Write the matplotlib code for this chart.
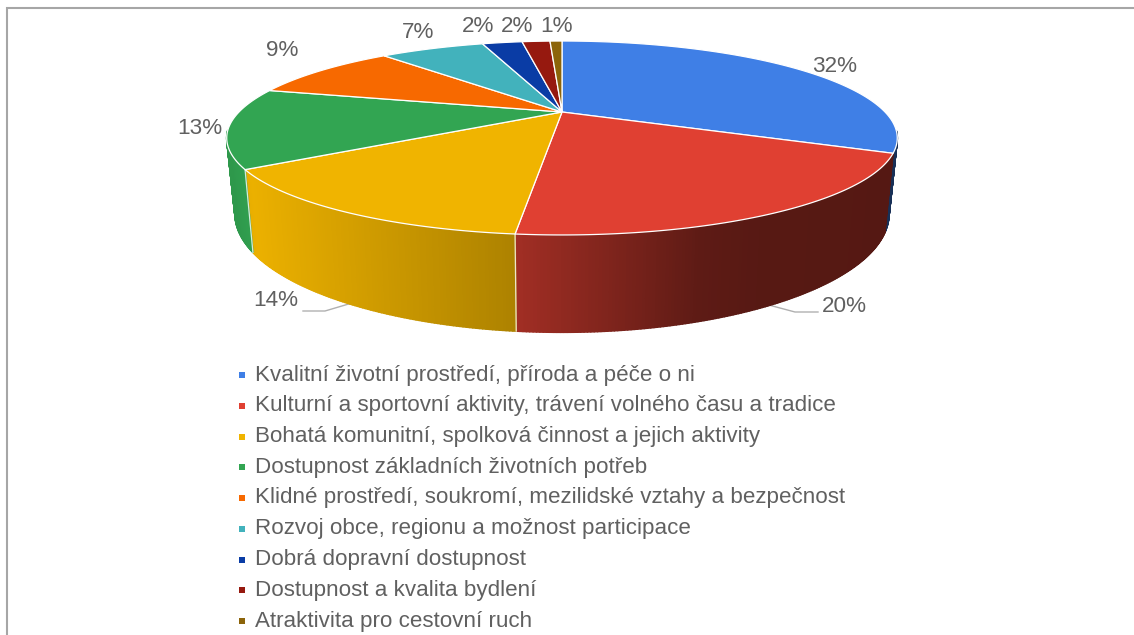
import numpy as np
import matplotlib
matplotlib.use('Agg')
import matplotlib.pyplot as plt
from matplotlib.collections import PolyCollection

kategorie = ['Kvalitní životní prostředí, příroda a péče o ni',
             'Kulturní a sportovní aktivity, trávení volného času a tradice',
             'Bohatá komunitní, spolková činnost a jejich aktivity',
             'Dostupnost základních životních potřeb',
             'Klidné prostředí, soukromí, mezilidské vztahy a bezpečnost',
             'Rozvoj obce, regionu a možnost participace',
             'Dobrá dopravní dostupnost',
             'Dostupnost a kvalita bydlení',
             'Atraktivita pro cestovní ruch']
hodnoty = [31.7, 20.0, 14.1, 13.3, 9.4, 6.5, 2.5, 1.75, 0.75]
popisky = ['32%', '20%', '14%', '13%', '9%', '7%', '2%', '2%', '1%']
barvy = ['#3f7fe6', '#e04032', '#f0b400', '#32a552', '#f76900',
         '#42b2bc', '#0a3ca5', '#96190f', '#8c640a']

# pozice popisku v pixelech
popisky_x = [835, 844, 276, 200, 282, 418, 478, 517, 557]
popisky_y = [66, 307, 301, 129, 50, 33, 26, 26, 26]

plt.rcParams['font.family'] = ['Liberation Sans', 'DejaVu Sans']
seda = '#606060'

fig = plt.figure(figsize=(11.34, 6.35), dpi=100)
ax = fig.add_axes([0, 0, 1, 1])
ax.set_xlim(0, 1134)
ax.set_ylim(635, 0)
ax.axis('off')

# perspektiva kolacku
K = 0.268
def horni(t):
    w = 1 + K * np.cos(t)
    return 562 + 323 * np.sin(t) / w, 112 - 90 * np.cos(t) / w

def dolni(t):
    w = 1 + K * np.cos(t)
    return 562 + 315 * np.sin(t) / w, 182 - 110 * np.cos(t) / w

def stin(x):
    return np.interp(x, [228, 250, 516, 700, 760, 890], [0.92, 0.98, 0.72, 0.42, 0.39, 0.38])

hranice = np.concatenate([[0], np.cumsum(hodnoty)]) / sum(hodnoty) * 2 * np.pi

# vodici cary
ax.plot([303, 325, 352], [311, 311, 303], color='#b0b0b0', lw=1, zorder=1)
ax.plot([818, 795, 765], [312, 312, 304], color='#b0b0b0', lw=1, zorder=1)

# bocni stena, jen predni cast
pasy = []
pasy_barvy = []
for i in range(len(hodnoty)):
    t = np.linspace(hranice[i], hranice[i + 1], max(2, int(hodnoty[i] * 8)))
    x1, y1 = horni(t)
    x2, y2 = dolni(t)
    rgb = np.array(matplotlib.colors.to_rgb(barvy[i]))
    for j in range(len(t) - 1):
        if np.cos(t[j]) > -0.2 and np.cos(t[j + 1]) > -0.2:
            continue
        pasy.append([(x1[j], y1[j]), (x1[j + 1], y1[j + 1]), (x2[j + 1], y2[j + 1]), (x2[j], y2[j])])
        pasy_barvy.append(rgb * stin((x1[j] + x1[j + 1]) / 2))
ax.add_collection(PolyCollection(pasy, facecolors=pasy_barvy, edgecolors=pasy_barvy, linewidths=1.2, zorder=2))

# bile hrany mezi vysecemi na stene
for i in [2, 3]:
    x = [horni(hranice[i])[0], dolni(hranice[i])[0]]
    y = [horni(hranice[i])[1], dolni(hranice[i])[1]]
    ax.plot(x, y, color='white', lw=0.9, alpha=0.8, zorder=3)

# horni plocha
for i in range(len(hodnoty)):
    t = np.linspace(hranice[i], hranice[i + 1], max(2, int(hodnoty[i] * 8)))
    x, y = horni(t)
    ax.fill(np.r_[562, x], np.r_[112, y], facecolor=barvy[i], edgecolor='white', lw=0.9, zorder=4)

for i in range(len(popisky)):
    ax.text(popisky_x[i], popisky_y[i], popisky[i], fontsize=16.2, color=seda,
            ha='center', va='center', zorder=5)

# legenda
for i in range(len(kategorie)):
    y = 375 + i * 30.75
    ax.plot([242], [y], 's', ms=4.2, color=barvy[i], mew=0, zorder=5)
    ax.text(255, y, kategorie[i], fontsize=16.1, color=seda, ha='left', va='center', zorder=5)

# ramecek
ax.plot([7, 7, 1134], [635, 8, 8], color='#a6a6a6', lw=1.5, zorder=6, solid_joinstyle='miter')

fig.savefig('out.png', dpi=100)
